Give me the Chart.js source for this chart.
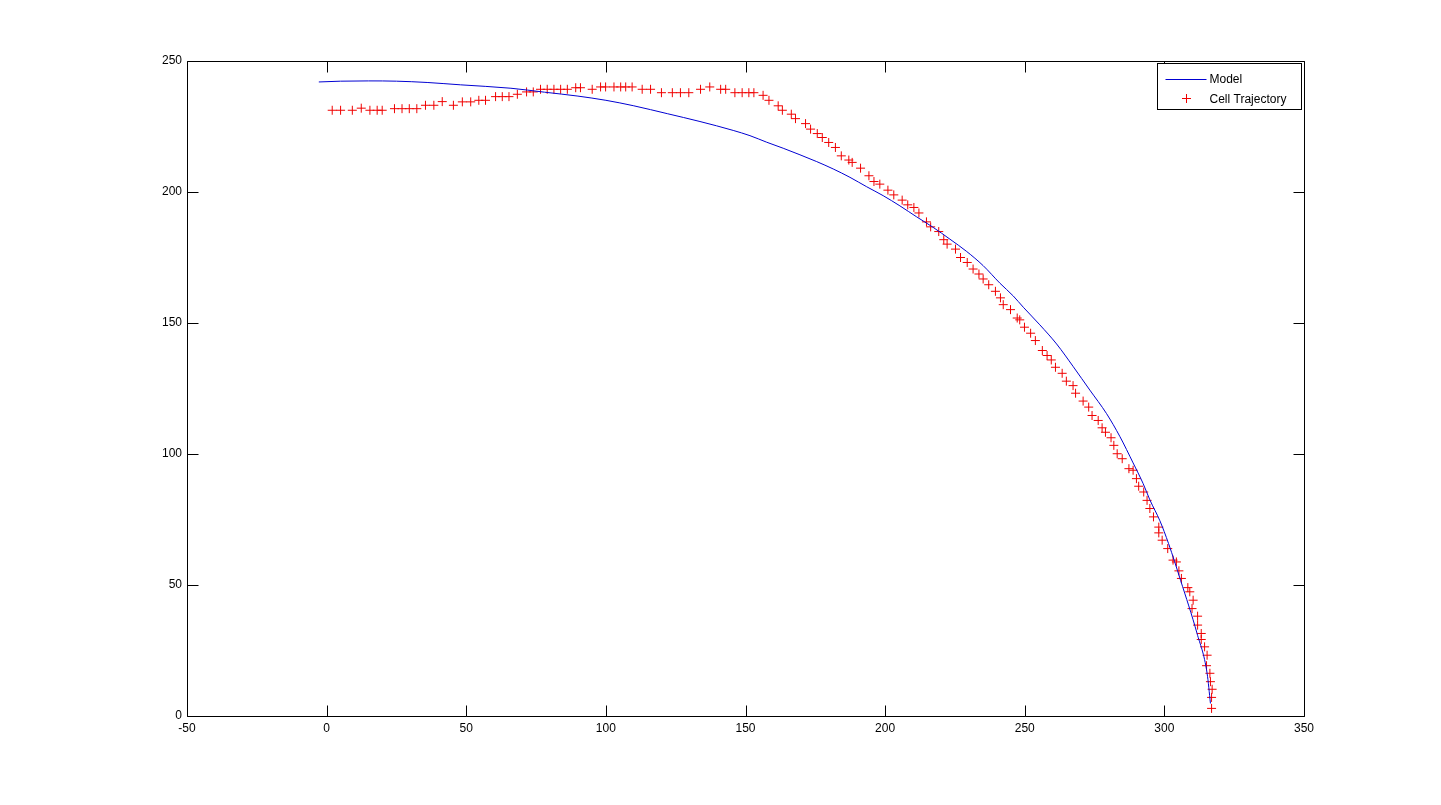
<!DOCTYPE html>
<html>
<head>
<meta charset="utf-8">
<script src="https://cdn.jsdelivr.net/npm/chart.js@4.4.0/dist/chart.umd.min.js"></script>
<style>
html,body{margin:0;padding:0;background:#fff;}
#wrap{width:1441px;height:805px;}
</style>
</head>
<body>
<div id="wrap"><canvas id="c" width="1441" height="805"></canvas></div>
<script>
// ---- data ----
const seriesNames = ["Model", "Cell Trajectory"];
const xTicks = [-50, 0, 50, 100, 150, 200, 250, 300, 350];
const yTicks = [0, 50, 100, 150, 200, 250];

const modelX = [-2.8, 5, 15, 25, 36, 48, 66, 78, 90, 100, 110, 122, 133.7, 145.6, 151.6, 157.6, 163.5, 169.5, 175.5, 181.4, 187.4, 193.4, 199.3, 205.3, 211.3, 217.2, 223.2, 229.2, 235.1, 241.1, 245.9, 249.5, 255.4, 261.4, 267.4, 273.3, 279.3, 284.1, 288.8, 292.4, 294.8, 298.4, 301.5, 305.8, 311.7, 315.3, 316.5];
const modelY = [242.0, 242.3, 242.4, 242.3, 241.8, 240.9, 239.6, 238.1, 236.6, 235.0, 232.9, 229.9, 226.9, 223.5, 221.5, 219.0, 216.7, 214.2, 211.6, 208.8, 205.6, 202.0, 198.6, 194.7, 190.5, 186.5, 182.0, 177.3, 171.9, 165.2, 160.3, 156.0, 149.3, 142.0, 133.3, 124.4, 115.4, 106.6, 96.6, 88.7, 82.5, 74.5, 65.8, 51.8, 31.5, 16.3, 4.8];

const cellX = [2.0, 5.0, 9.2, 12.4, 15.5, 18.1, 19.9, 24.3, 27.0, 29.6, 32.3, 35.4, 38.4, 41.4, 45.4, 48.6, 51.6, 54.5, 56.9, 60.5, 62.9, 65.3, 68.3, 71.6, 74.0, 76.6, 79.0, 81.4, 83.8, 86.2, 89.2, 90.9, 95.1, 98.1, 99.9,
  102.9, 105.3, 107.1, 109.4, 113.0, 116.0, 119.9, 123.8, 126.7, 129.7, 133.9, 137.2, 141.1, 142.9, 146.2, 148.8, 151.2, 153.0, 156.3, 158.4, 161.7, 163.2, 166.4, 167.9, 171.5, 173.3, 175.7, 177.5, 179.8, 182.2, 184.3, 187.0, 188.2, 191.2, 194.2,
  196.0, 198.1, 201.0, 203.1, 206.1, 208.1, 210.3, 212.1, 214.8, 216.3, 219.2, 221.0, 222.2, 225.2, 227.0, 229.4, 231.5, 233.6, 235.1, 237.1, 239.5, 241.3, 242.3, 244.9, 247.3, 248.2, 249.9, 252.1, 253.8, 256.3, 258.0, 259.5,
  261.0, 263.4, 264.9, 267.3, 268.2, 270.9, 272.9, 274.1, 276.3, 277.7, 278.9, 280.9, 281.9, 283.1, 284.9, 287.3, 288.8, 290.0, 290.8, 292.6, 293.8, 294.8, 296.1, 298.0,
  298.0, 299.2, 301.2, 303.1, 304.3, 305.2, 306.1, 308.4, 309.1, 310.3, 309.9, 311.9, 311.9, 313.2, 313.2, 314.4, 315.3, 315.1, 316.3, 316.5, 317.1, 316.9, 316.9];
const cellY = [231.2, 231.2, 231.2, 232.0, 231.2, 231.2, 231.2, 231.8, 231.8, 231.8, 231.8, 233.1, 233.1, 234.5, 233.1, 234.4, 234.4, 235.0, 235.0, 236.4, 236.4, 236.4, 237.3, 238.2, 238.2, 239.2, 239.2, 239.2, 239.2, 239.2, 239.8, 239.8, 239.2, 240.1, 240.1,
  240.1, 240.1, 240.1, 240.1, 239.2, 239.2, 237.9, 237.9, 237.9, 237.9, 239.2, 240.1, 239.2, 239.2, 237.9, 237.9, 237.9, 237.9, 236.9, 235.0, 232.9, 231.2, 229.7, 228.0, 226.1, 224.0, 222.3, 220.8, 218.9, 217.0, 213.8, 212.2, 211.3, 209.1, 206.2,
  204.0, 203.0, 200.7, 198.9, 196.9, 195.1, 194.1, 192.0, 188.6, 186.7, 184.9, 181.8, 180.1, 178.2, 175.0, 173.1, 170.6, 168.7, 166.8, 164.6, 162.1, 159.6, 157.0, 155.1, 151.9, 151.2, 148.4, 146.1, 143.3, 139.5, 137.6, 135.9,
  133.1, 130.8, 127.8, 126.1, 123.2, 120.2, 117.9, 114.7, 112.8, 110.0, 108.3, 106.2, 103.3, 100.1, 98.2, 94.4, 93.8, 90.6, 87.7, 85.5, 82.3, 79.2, 76.0, 72.1,
  69.9, 67.1, 63.9, 59.5, 58.8, 55.4, 52.5, 49.0, 47.4, 44.2, 41.0, 38.1, 34.7, 31.5, 29.2, 26.4, 23.2, 19.2, 16.3, 13.1, 10.2, 7.1, 2.9];

// ---- build ----
const modelPts = modelX.map((x, i) => ({x: x, y: modelY[i]}));
const cellPts = cellX.map((x, i) => ({x: x, y: cellY[i]}));

const BLUE = 'rgb(0,0,210)';
const RED = 'rgb(240,0,0)';
const FONT = "'Liberation Sans', Arial, sans-serif";

const framePlugin = {
  id: 'frame',
  afterDraw(chart) {
    const ctx = chart.ctx;
    const a = chart.chartArea;
    const xs = chart.scales.x, ys = chart.scales.y;
    ctx.save();
    ctx.strokeStyle = '#000';
    ctx.lineWidth = 1;
    const L = Math.round(a.left) + 0.5, R = Math.round(a.right) + 0.5;
    const T = Math.round(a.top) + 0.5, B = Math.round(a.bottom) + 0.5;
    ctx.beginPath();
    ctx.rect(L, T, R - L, B - T);
    const tl = 11;
    xTicks.forEach(v => {
      const p = Math.round(xs.getPixelForValue(v)) + 0.5;
      ctx.moveTo(p, B); ctx.lineTo(p, B - tl);
      ctx.moveTo(p, T); ctx.lineTo(p, T + tl);
    });
    yTicks.forEach(v => {
      const p = Math.round(ys.getPixelForValue(v)) + 0.5;
      ctx.moveTo(L, p); ctx.lineTo(L + tl, p);
      ctx.moveTo(R, p); ctx.lineTo(R - tl, p);
    });
    ctx.stroke();

    // legend box
    const bw = 144, bh = 46;
    const bx = Math.round(a.right) - 3 - bw + 0.5, by = Math.round(a.top) + 2 + 0.5;
    ctx.fillStyle = '#fff';
    ctx.fillRect(bx, by, bw, bh);
    ctx.strokeStyle = '#000';
    ctx.strokeRect(bx, by, bw, bh);
    // model sample
    ctx.strokeStyle = BLUE;
    ctx.beginPath();
    ctx.moveTo(bx + 8, by + 16); ctx.lineTo(bx + 49, by + 16);
    ctx.stroke();
    // cross sample
    ctx.strokeStyle = RED;
    const cx = bx + 29, cy = by + 35;
    ctx.beginPath();
    ctx.moveTo(cx - 4.5, cy); ctx.lineTo(cx + 4.5, cy);
    ctx.moveTo(cx, cy - 4.5); ctx.lineTo(cx, cy + 4.5);
    ctx.stroke();
    ctx.fillStyle = '#000';
    ctx.font = '12px ' + FONT;
    ctx.textBaseline = 'middle';
    ctx.textAlign = 'left';
    ctx.fillText(seriesNames[0], bx + 52, by + 16);
    ctx.fillText(seriesNames[1], bx + 52, by + 36);
    ctx.restore();
  }
};

new Chart(document.getElementById('c'), {
  type: 'scatter',
  data: {
    datasets: [
      {
        label: seriesNames[0],
        data: modelPts,
        showLine: true,
        borderColor: BLUE,
        backgroundColor: BLUE,
        borderWidth: 1,
        pointRadius: 0,
        cubicInterpolationMode: 'monotone',
        fill: false
      },
      {
        label: seriesNames[1],
        data: cellPts,
        showLine: false,
        pointStyle: 'cross',
        pointRadius: 4.5,
        pointBorderWidth: 1,
        borderColor: RED,
        backgroundColor: RED
      }
    ]
  },
  options: {
    responsive: false,
    animation: false,
    devicePixelRatio: 1,
    layout: { padding: { left: 0, top: 61, right: 137, bottom: 0 } },
    plugins: {
      legend: { display: false },
      tooltip: { enabled: false },
      title: { display: false }
    },
    scales: {
      x: {
        type: 'linear',
        min: -50, max: 350,
        afterFit(s) { s.height = 89; },
        afterBuildTicks(s) { s.ticks = xTicks.map(v => ({value: v})); },
        grid: { display: false, drawTicks: false },
        border: { display: false },
        ticks: { color: '#000', font: { family: FONT, size: 12 }, padding: 5, maxRotation: 0 }
      },
      y: {
        type: 'linear',
        min: 0, max: 250,
        afterFit(s) { s.width = 187; },
        afterBuildTicks(s) { s.ticks = yTicks.map(v => ({value: v})); },
        grid: { display: false, drawTicks: false },
        border: { display: false },
        ticks: { color: '#000', font: { family: FONT, size: 12 }, padding: 5 }
      }
    }
  },
  plugins: [framePlugin]
});
</script>
</body>
</html>
